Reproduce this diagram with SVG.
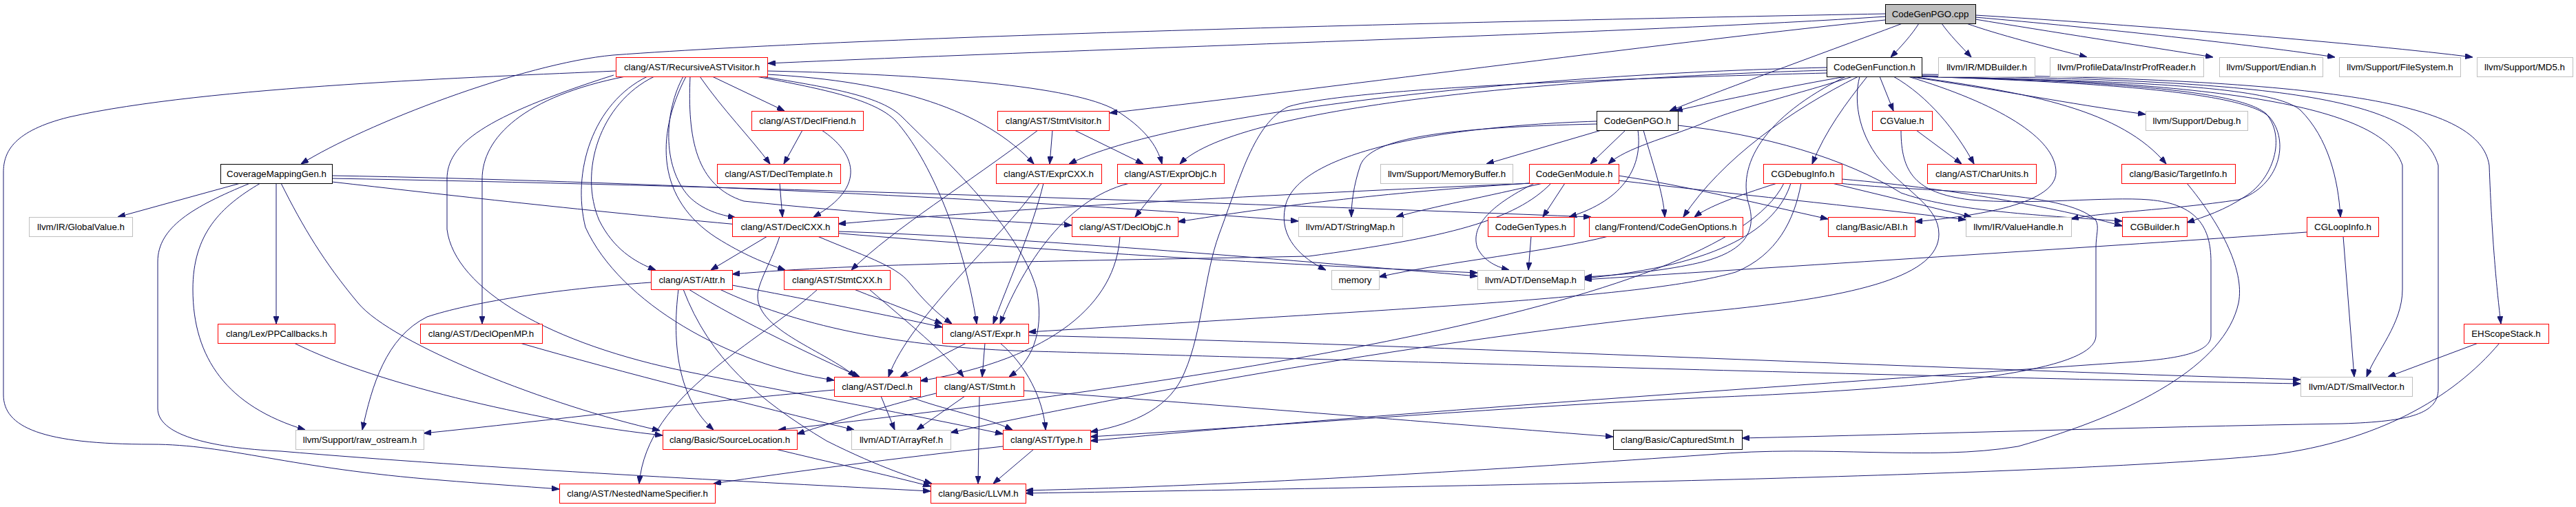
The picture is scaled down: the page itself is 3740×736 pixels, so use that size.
<svg xmlns="http://www.w3.org/2000/svg" width="3740" height="736" viewBox="0 0 3740 736">
<style>
.bg{fill:#fff}
#connectors path{fill:none;stroke:#191970;stroke-width:1;marker-end:url(#arr)}
.node rect{fill:#fff;stroke-width:1}
.r rect{stroke:#ff0000}
.g rect{stroke:#bfbfbf}
.k rect{stroke:#000}
.root rect{fill:#bfbfbf;stroke:#000}
.node text{font-family:"Liberation Sans",Arial,Helvetica,sans-serif;font-size:13.3px;text-anchor:middle;fill:#000}
</style>
<defs>
<marker id="arr" markerWidth="11" markerHeight="8" refX="11" refY="4" orient="auto" markerUnits="userSpaceOnUse">
<path d="M0,0L11,4L0,8z" fill="#191970" stroke="#191970" stroke-width="1"/>
</marker>
</defs>
<rect class="bg" x="0" y="0" width="3740" height="736"/>
<g id="connectors">
<path d="M2786,34 C2776,50 2760,68 2745,83"/>
<path d="M2819,34 C2830,50 2848,68 2862,83"/>
<path d="M2855,34 C2900,50 2970,68 3030,83"/>
<path d="M2868,28 C2970,45 3120,68 3213,83"/>
<path d="M2868,25 C3040,40 3280,66 3390,83"/>
<path d="M2868,22 C3100,36 3440,64 3590,83"/>
<path d="M2762,34 C2680,65 2500,130 2424,161"/>
<path d="M2737,29 C2450,58 1950,125 1611,164"/>
<path d="M2737,24 C2400,47 1600,70 1115,92"/>
<path d="M2737,20 C2200,30 1300,50 890,80 C760,92 530,180 437,238"/>
<path d="M1034,111 L1139,161"/>
<path d="M1016,111 C1050,160 1090,200 1118,238"/>
<path d="M992,111 C965,160 960,240 1000,285 C1020,305 1045,312 1068,316"/>
<path d="M1114,108 C1300,118 1430,160 1501,238"/>
<path d="M1114,103 C1350,108 1560,125 1620,160 C1660,185 1680,210 1687,238"/>
<path d="M1002,111 C998,200 1010,270 1080,292 C1250,310 1400,318 1556,327"/>
<path d="M950,111 C870,150 840,250 870,320 C890,360 920,380 952,392"/>
<path d="M996,111 C950,200 955,290 1040,345 C1080,370 1110,382 1140,392"/>
<path d="M1098,111 C1200,130 1270,145 1300,175 C1350,230 1400,350 1418,470"/>
<path d="M1106,111 C1210,128 1280,140 1310,170 C1370,230 1480,330 1505,420 C1515,470 1505,520 1465,547"/>
<path d="M940,111 C860,150 830,250 850,330 C900,440 1060,530 1211,552"/>
<path d="M908,111 C760,140 700,200 700,260 L700,470"/>
<path d="M891,109 C700,170 649,210 649,260 L649,333 C660,420 800,500 1000,540 C1200,580 1340,605 1456,630"/>
<path d="M894,103 C700,112 300,125 100,170 C20,190 5,220 5,250 L5,573 C5,620 60,645 220,645 C330,645 420,680 640,697 C700,702 760,706 812,710"/>
<path d="M1165,189 L1138,238"/>
<path d="M1193,189 C1240,220 1262,270 1181,315"/>
<path d="M1132,266 L1136,315"/>
<path d="M1114,343 L1032,392"/>
<path d="M1132,343 C1120,380 1100,410 1100,430 C1100,480 1200,510 1242,547"/>
<path d="M1187,343 C1250,370 1300,385 1320,410 C1340,435 1360,455 1382,470"/>
<path d="M1217,336 C1500,345 1900,380 2145,401"/>
<path d="M1528,189 L1524,238"/>
<path d="M1560,189 L1660,238"/>
<path d="M1507,189 C1400,270 1300,330 1236,392"/>
<path d="M1515,266 C1500,330 1460,420 1442,470"/>
<path d="M1509,266 C1470,330 1320,460 1290,547"/>
<path d="M1687,266 L1648,315"/>
<path d="M1640,266 C1540,290 1480,400 1452,470"/>
<path d="M1626,343 C1620,440 1530,520 1336,553"/>
<path d="M349,266 L171,315"/>
<path d="M401,266 L401,470"/>
<path d="M378,266 C320,300 280,340 280,420 C280,520 330,590 443,624"/>
<path d="M363,266 C280,300 229,330 229,380 L229,593 C229,630 300,650 408,655 C700,680 1100,700 1351,713"/>
<path d="M408,266 C440,330 470,380 520,440 C570,500 800,590 958,625"/>
<path d="M482,255 C900,262 1500,290 1885,321"/>
<path d="M482,259 C1000,268 1800,295 2310,315"/>
<path d="M482,264 C800,300 1300,360 2145,396"/>
<path d="M2325,189 L2158,238"/>
<path d="M2360,189 L2309,238"/>
<path d="M2378,189 C2385,240 2360,290 2278,315"/>
<path d="M2386,189 C2400,240 2415,280 2417,315"/>
<path d="M2318,180 C2100,185 1990,200 1975,240 C1965,270 1962,295 1962,315"/>
<path d="M2318,176 C2050,185 1880,230 1866,300 C1856,345 1890,375 1925,392"/>
<path d="M2436,182 C2560,195 2680,230 2760,280 C2830,305 2950,312 3081,321"/>
<path d="M2729,111 L2749,161"/>
<path d="M2711,111 C2680,150 2650,190 2631,238"/>
<path d="M2749,111 C2800,140 2840,190 2866,238"/>
<path d="M2770,111 C2900,130 3000,150 3115,166"/>
<path d="M2775,111 C2950,135 3080,160 3145,238"/>
<path d="M2780,111 C3050,118 3250,130 3290,165 C3320,200 3300,260 3260,285 C3230,305 3200,315 3175,323"/>
<path d="M2785,111 C3100,118 3300,125 3340,160 C3380,200 3395,260 3398,315"/>
<path d="M2788,111 C3200,118 3460,150 3488,240 L3488,420 C3488,470 3450,510 3436,547"/>
<path d="M2790,110 C3300,116 3510,140 3540,240 L3540,565 C3540,600 3500,612 3400,615 C3100,620 2800,630 2529,636"/>
<path d="M2790,108 C3400,114 3600,150 3614,240 C3618,350 3625,420 3631,470"/>
<path d="M2790,111 C3060,120 3260,135 3295,170 C3325,205 3310,270 3250,290 C3150,305 3050,308 3007,318"/>
<path d="M2690,111 C2600,140 2510,160 2470,180 C2420,200 2360,215 2335,238"/>
<path d="M2680,111 C2600,125 2500,145 2432,161"/>
<path d="M2652,98 C2200,108 1700,165 1552,238"/>
<path d="M2652,102 C2300,112 1800,150 1713,238"/>
<path d="M2652,106 C2300,115 1950,130 1870,155 C1820,180 1800,260 1770,340 C1748,400 1746,480 1720,540 C1700,590 1650,615 1583,627"/>
<path d="M2770,111 C2900,150 2985,200 2985,250 C2985,300 2850,315 2780,322"/>
<path d="M2698,111 C2600,160 2500,230 2444,315"/>
<path d="M2700,111 C2690,150 2700,200 2736,240 C2770,280 2815,300 2815,340 C2815,400 2700,430 2500,450 C2100,490 1700,560 1380,628"/>
<path d="M2680,111 C2560,170 2520,240 2540,300 C2550,340 2530,370 2450,385 C2400,395 2340,400 2300,402"/>
<path d="M2782,189 L2848,238"/>
<path d="M2760,189 C2760,250 2780,280 2860,290 C2950,298 3060,285 3120,290 C3190,296 3210,330 3210,380 L3210,487 C3210,510 3170,520 3100,525 C2600,560 2000,600 1583,640"/>
<path d="M2674,260 C2850,275 3000,305 3081,328"/>
<path d="M2660,266 L2862,315"/>
<path d="M2580,266 C2520,285 2480,300 2460,315"/>
<path d="M2600,266 C2580,330 2500,385 2300,404"/>
<path d="M2615,266 C2605,320 2580,370 2520,395 C2400,430 2100,445 1493,482"/>
<path d="M2590,266 C2500,450 1700,560 1130,624"/>
<path d="M2670,266 C2800,280 3000,275 3043,320 C3048,330 3043,340 3043,360 L3043,487 C3043,530 2900,560 2480,577 C2200,590 1900,615 1583,634"/>
<path d="M2225,266 C1900,280 1500,300 1217,325"/>
<path d="M2220,266 C2000,280 1850,300 1710,322"/>
<path d="M2252,266 C2200,320 2100,345 1900,372 C1500,380 1250,382 1063,398"/>
<path d="M2240,266 C2160,285 2080,300 2027,315"/>
<path d="M2272,266 L2240,315"/>
<path d="M2228,266 C2160,300 2135,330 2145,360 C2155,380 2175,388 2191,392"/>
<path d="M2350,255 C2450,270 2550,295 2654,318"/>
<path d="M2350,262 C2500,280 2700,300 2854,319"/>
<path d="M2223,343 L2219,392"/>
<path d="M2335,343 C2250,365 2100,380 2002,402"/>
<path d="M3175,266 C3220,320 3260,390 3250,440 C3230,530 3100,600 2930,648 C2800,670 2650,645 2480,660 C2200,680 1800,705 1489,712"/>
<path d="M3402,343 L3418,547"/>
<path d="M3349,337 C3100,355 2700,380 2300,406"/>
<path d="M3598,498 L3467,547"/>
<path d="M3629,498 C3560,580 3450,640 3300,660 C3000,690 2200,705 1489,716"/>
<path d="M945,410 C800,420 680,440 620,460 C560,490 540,560 526,624"/>
<path d="M985,420 C975,500 985,580 1036,624"/>
<path d="M992,420 C1030,520 1100,580 1200,640 C1280,680 1330,695 1353,702"/>
<path d="M1000,420 C1080,470 1190,520 1248,547"/>
<path d="M1063,414 C1200,440 1300,460 1368,475"/>
<path d="M1045,420 C1150,470 1300,505 1501,510 C1700,515 2800,548 3340,557"/>
<path d="M1187,420 C1100,500 940,570 928,702"/>
<path d="M1240,420 C1290,440 1330,455 1368,470"/>
<path d="M1262,420 C1320,470 1370,510 1399,547"/>
<path d="M1403,498 L1307,547"/>
<path d="M1430,498 L1426,547"/>
<path d="M1452,498 C1490,530 1515,580 1518,624"/>
<path d="M1493,487 C2000,498 2800,535 3340,551"/>
<path d="M1279,575 L1299,624"/>
<path d="M1318,575 C1370,595 1430,605 1470,624"/>
<path d="M1211,566 C1000,585 800,610 615,629"/>
<path d="M1401,575 L1331,624"/>
<path d="M1422,575 L1420,702"/>
<path d="M1359,571 C1300,585 1220,610 1157,630"/>
<path d="M1486,567 C1800,590 2100,615 2342,634"/>
<path d="M1501,652 L1442,702"/>
<path d="M1456,648 C1300,665 1150,685 1036,702"/>
<path d="M1126,652 C1200,670 1290,690 1351,706"/>
<path d="M755,498 C900,540 1100,590 1240,624"/>
<path d="M427,498 C550,560 800,615 962,632"/>
</g>
<g transform="translate(0.5,0.5)">
<g id="n_root" class="node root"><rect x="2737" y="6" width="131" height="28"/><text x="2802" y="24">CodeGenPGO.cpp</text></g>
<g id="n_rav" class="node r"><rect x="894" y="83" width="220" height="28"/><text x="1004" y="101">clang/AST/RecursiveASTVisitor.h</text></g>
<g id="n_cgf" class="node k"><rect x="2652" y="83" width="138" height="28"/><text x="2721" y="101">CodeGenFunction.h</text></g>
<g id="n_mdb" class="node g"><rect x="2814" y="83" width="140" height="28"/><text x="2884" y="101">llvm/IR/MDBuilder.h</text></g>
<g id="n_ipr" class="node g"><rect x="2976" y="83" width="223" height="28"/><text x="3087" y="101">llvm/ProfileData/InstrProfReader.h</text></g>
<g id="n_end" class="node g"><rect x="3222" y="83" width="150" height="28"/><text x="3297" y="101">llvm/Support/Endian.h</text></g>
<g id="n_fs" class="node g"><rect x="3396" y="83" width="176" height="28"/><text x="3484" y="101">llvm/Support/FileSystem.h</text></g>
<g id="n_md5" class="node g"><rect x="3596" y="83" width="139" height="28"/><text x="3665" y="101">llvm/Support/MD5.h</text></g>
<g id="n_df" class="node r"><rect x="1091" y="161" width="162" height="28"/><text x="1172" y="179">clang/AST/DeclFriend.h</text></g>
<g id="n_sv" class="node r"><rect x="1448" y="161" width="162" height="28"/><text x="1529" y="179">clang/AST/StmtVisitor.h</text></g>
<g id="n_pgoh" class="node k"><rect x="2318" y="161" width="118" height="28"/><text x="2377" y="179">CodeGenPGO.h</text></g>
<g id="n_cgv" class="node r"><rect x="2718" y="161" width="87" height="28"/><text x="2761" y="179">CGValue.h</text></g>
<g id="n_dbg" class="node g"><rect x="3115" y="161" width="148" height="28"/><text x="3189" y="179">llvm/Support/Debug.h</text></g>
<g id="n_cmg" class="node k"><rect x="320" y="238" width="162" height="28"/><text x="401" y="256">CoverageMappingGen.h</text></g>
<g id="n_dt" class="node r"><rect x="1041" y="238" width="179" height="28"/><text x="1130" y="256">clang/AST/DeclTemplate.h</text></g>
<g id="n_ecxx" class="node r"><rect x="1446" y="238" width="153" height="28"/><text x="1522" y="256">clang/AST/ExprCXX.h</text></g>
<g id="n_eobjc" class="node r"><rect x="1622" y="238" width="155" height="28"/><text x="1699" y="256">clang/AST/ExprObjC.h</text></g>
<g id="n_mb" class="node g"><rect x="2004" y="238" width="192" height="28"/><text x="2100" y="256">llvm/Support/MemoryBuffer.h</text></g>
<g id="n_cgm" class="node r"><rect x="2220" y="238" width="130" height="28"/><text x="2285" y="256">CodeGenModule.h</text></g>
<g id="n_cgdi" class="node r"><rect x="2560" y="238" width="114" height="28"/><text x="2617" y="256">CGDebugInfo.h</text></g>
<g id="n_cu" class="node r"><rect x="2798" y="238" width="158" height="28"/><text x="2877" y="256">clang/AST/CharUnits.h</text></g>
<g id="n_ti" class="node r"><rect x="3080" y="238" width="165" height="28"/><text x="3162" y="256">clang/Basic/TargetInfo.h</text></g>
<g id="n_gv" class="node g"><rect x="42" y="315" width="150" height="28"/><text x="117" y="333">llvm/IR/GlobalValue.h</text></g>
<g id="n_dcxx" class="node r"><rect x="1063" y="315" width="154" height="28"/><text x="1140" y="333">clang/AST/DeclCXX.h</text></g>
<g id="n_dobjc" class="node r"><rect x="1556" y="315" width="154" height="28"/><text x="1633" y="333">clang/AST/DeclObjC.h</text></g>
<g id="n_sm" class="node g"><rect x="1885" y="315" width="151" height="28"/><text x="1960" y="333">llvm/ADT/StringMap.h</text></g>
<g id="n_cgt" class="node r"><rect x="2160" y="315" width="125" height="28"/><text x="2222" y="333">CodeGenTypes.h</text></g>
<g id="n_cgo" class="node r"><rect x="2307" y="315" width="223" height="28"/><text x="2418" y="333">clang/Frontend/CodeGenOptions.h</text></g>
<g id="n_abi" class="node r"><rect x="2654" y="315" width="126" height="28"/><text x="2717" y="333">clang/Basic/ABI.h</text></g>
<g id="n_vh" class="node g"><rect x="2854" y="315" width="153" height="28"/><text x="2930" y="333">llvm/IR/ValueHandle.h</text></g>
<g id="n_cgb" class="node r"><rect x="3081" y="315" width="94" height="28"/><text x="3128" y="333">CGBuilder.h</text></g>
<g id="n_cgli" class="node r"><rect x="3349" y="315" width="104" height="28"/><text x="3401" y="333">CGLoopInfo.h</text></g>
<g id="n_attr" class="node r"><rect x="945" y="392" width="118" height="28"/><text x="1004" y="410">clang/AST/Attr.h</text></g>
<g id="n_scxx" class="node r"><rect x="1138" y="392" width="154" height="28"/><text x="1215" y="410">clang/AST/StmtCXX.h</text></g>
<g id="n_mem" class="node g"><rect x="1933" y="392" width="69" height="28"/><text x="1967" y="410">memory</text></g>
<g id="n_dm" class="node g"><rect x="2145" y="392" width="155" height="28"/><text x="2222" y="410">llvm/ADT/DenseMap.h</text></g>
<g id="n_ppc" class="node r"><rect x="316" y="470" width="170" height="28"/><text x="401" y="488">clang/Lex/PPCallbacks.h</text></g>
<g id="n_domp" class="node r"><rect x="610" y="470" width="177" height="28"/><text x="698" y="488">clang/AST/DeclOpenMP.h</text></g>
<g id="n_expr" class="node r"><rect x="1368" y="470" width="125" height="28"/><text x="1430" y="488">clang/AST/Expr.h</text></g>
<g id="n_ehs" class="node r"><rect x="3577" y="470" width="123" height="28"/><text x="3638" y="488">EHScopeStack.h</text></g>
<g id="n_decl" class="node r"><rect x="1211" y="547" width="125" height="28"/><text x="1273" y="565">clang/AST/Decl.h</text></g>
<g id="n_stmt" class="node r"><rect x="1359" y="547" width="127" height="28"/><text x="1422" y="565">clang/AST/Stmt.h</text></g>
<g id="n_svec" class="node g"><rect x="3340" y="547" width="162" height="28"/><text x="3421" y="565">llvm/ADT/SmallVector.h</text></g>
<g id="n_raw" class="node g"><rect x="429" y="624" width="186" height="28"/><text x="522" y="642">llvm/Support/raw_ostream.h</text></g>
<g id="n_sl" class="node r"><rect x="962" y="624" width="195" height="28"/><text x="1059" y="642">clang/Basic/SourceLocation.h</text></g>
<g id="n_ar" class="node g"><rect x="1236" y="624" width="144" height="28"/><text x="1308" y="642">llvm/ADT/ArrayRef.h</text></g>
<g id="n_type" class="node r"><rect x="1456" y="624" width="127" height="28"/><text x="1519" y="642">clang/AST/Type.h</text></g>
<g id="n_cs" class="node k"><rect x="2342" y="624" width="187" height="28"/><text x="2435" y="642">clang/Basic/CapturedStmt.h</text></g>
<g id="n_nns" class="node r"><rect x="812" y="702" width="226" height="28"/><text x="925" y="720">clang/AST/NestedNameSpecifier.h</text></g>
<g id="n_llvm" class="node r"><rect x="1351" y="702" width="138" height="28"/><text x="1420" y="720">clang/Basic/LLVM.h</text></g>
</g>
</svg>
